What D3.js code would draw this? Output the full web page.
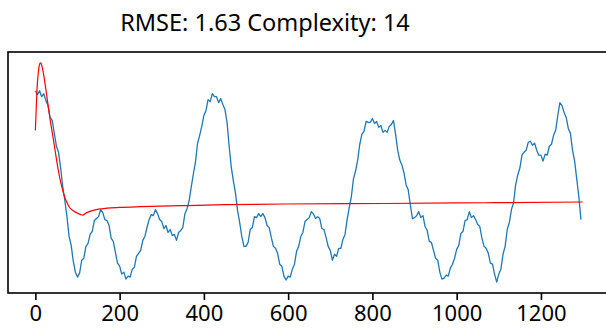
<!DOCTYPE html>
<html>
<head>
<meta charset="utf-8">
<script src="https://cdn.jsdelivr.net/npm/d3@7/dist/d3.min.js"></script>
<style>
  html, body { margin: 0; padding: 0; background: #fff; }
  svg { display: block; }
</style>
</head>
<body>
<svg id="chart" width="606" height="333"></svg>
<script>
// ---- data ----
const titleText = "RMSE: 1.63 Complexity: 14";
const xTicks = [0, 200, 400, 600, 800, 1000, 1200];
const xLast = 1299;
const sampleStep = 5; // observed series sampled every 5 units (index * 5)
const observed = [
 4.56,4.40,4.56,4.32,4.44,4.16,3.96,3.48,3.36,2.84,
 2.32,2.08,1.44,0.68,0.12,-0.52,-1.32,-1.68,-2.32,-2.76,
 -2.96,-2.80,-2.28,-2.20,-1.72,-1.60,-1.24,-1.12,-0.68,-0.60,
 -0.52,-0.24,-0.36,-0.64,-0.68,-0.88,-1.40,-1.52,-1.96,-2.40,
 -2.52,-2.84,-2.76,-3.04,-2.92,-2.96,-2.64,-2.56,-2.12,-2.00,
 -1.88,-1.48,-1.32,-0.96,-0.64,-0.44,-0.48,-0.24,-0.40,-0.64,
 -0.72,-1.00,-0.88,-1.16,-1.04,-1.28,-1.24,-1.48,-1.16,-1.08,
 -0.96,-0.40,-0.20,0.12,0.68,1.20,1.68,2.44,2.76,3.12,
 3.56,3.76,4.20,4.12,4.44,4.32,4.32,4.08,4.24,4.00,
 3.80,3.28,2.32,1.48,0.92,0.44,-0.28,-0.76,-1.32,-1.72,
 -1.72,-1.56,-1.04,-0.96,-0.52,-0.56,-0.40,-0.52,-0.40,-0.56,
 -0.88,-0.96,-1.36,-1.72,-1.80,-2.00,-2.44,-2.52,-2.92,-3.08,
 -2.92,-2.96,-2.64,-2.44,-1.92,-1.72,-1.32,-1.16,-0.72,-0.64,
 -0.56,-0.32,-0.40,-0.60,-0.52,-0.60,-1.00,-1.04,-1.36,-1.72,
 -1.88,-2.28,-2.04,-2.12,-1.80,-1.80,-1.44,-1.24,-0.64,-0.16,
 0.28,1.00,1.32,1.76,2.40,2.80,2.92,3.32,3.28,3.28,
 3.44,3.24,3.32,3.08,3.16,2.88,2.96,2.88,3.12,3.20,
 3.36,2.80,2.16,1.76,1.56,1.24,0.76,0.56,-0.04,-0.60,
 -0.56,-0.48,-0.32,-0.56,-0.48,-0.92,-1.08,-1.52,-1.56,-1.88,
 -2.20,-2.28,-2.76,-3.04,-3.00,-2.88,-2.92,-2.60,-2.44,-2.20,
 -1.84,-1.68,-1.20,-1.12,-0.68,-0.64,-0.32,-0.56,-0.48,-0.64,
 -0.84,-0.92,-1.40,-1.72,-1.80,-2.00,-2.40,-2.44,-2.84,-3.16,
 -2.84,-2.64,-2.04,-1.72,-1.04,-0.76,-0.24,0.04,0.76,1.16,
 1.44,1.96,2.08,2.16,2.48,2.52,2.36,2.44,2.16,1.96,
 1.96,1.72,2.00,1.96,2.32,2.40,2.76,2.96,3.56,4.08,
 3.96,3.68,3.48,3.04,2.84,2.16,1.72,1.00,0.28,-0.64
];
const modelX = [0,2,4,6,8,10,12,14,16,19,22,26,30,35,40,45,50,55,60,66,72,76,80,90,100,108,113,118,125,135,150,170,200,250,344,450,593,830,1067,1299];
const modelY = [2.96,3.84,4.64,5.12,5.44,5.62,5.68,5.64,5.52,5.28,4.96,4.48,4.00,3.40,2.88,2.36,1.80,1.30,0.88,0.48,0.16,0.02,-0.12,-0.28,-0.38,-0.44,-0.46,-0.40,-0.34,-0.28,-0.22,-0.18,-0.15,-0.12,-0.08,-0.04,-0.01,0.01,0.04,0.07];

// ---- layout ----
const svg = d3.select("#chart");
const plot = { left: 8, right: 610, top: 52, bottom: 293 };
const font = "'Noto Sans', 'Open Sans', sans-serif";

const obsPts = observed.map((v, i) => [i * sampleStep, v]);
const modPts = modelX.map((x, i) => [x, modelY[i]]);

const xPad = (xLast - 0) * 0.05;
const x = d3.scaleLinear().domain([0 - xPad, xLast + xPad]).range([plot.left, plot.right]);
const allY = observed.concat(modelY);
const [yMin, yMax] = d3.extent(allY);
const yPad = (yMax - yMin) * 0.05;
const y = d3.scaleLinear().domain([yMin - yPad, yMax + yPad]).range([plot.bottom, plot.top]);

svg.append("clipPath").attr("id", "clip")
  .append("rect").attr("x", plot.left).attr("y", plot.top)
  .attr("width", plot.right - plot.left).attr("height", plot.bottom - plot.top);

const g = svg.append("g").attr("clip-path", "url(#clip)");

g.append("path").datum(obsPts)
  .attr("fill", "none").attr("stroke", "#1f77b4").attr("stroke-width", 1.3)
  .attr("stroke-linejoin", "round")
  .attr("d", d3.line().x(d => x(d[0])).y(d => y(d[1])));

g.append("path").datum(modPts)
  .attr("fill", "none").attr("stroke", "#ff0000").attr("stroke-width", 1.2)
  .attr("d", d3.line().curve(d3.curveMonotoneX).x(d => x(d[0])).y(d => y(d[1])));

// frame
svg.append("rect")
  .attr("x", plot.left).attr("y", plot.top)
  .attr("width", plot.right - plot.left).attr("height", plot.bottom - plot.top)
  .attr("fill", "none").attr("stroke", "#000").attr("stroke-width", 1.6);

// x axis
const xAxis = d3.axisBottom(x).tickValues(xTicks).tickSize(7).tickPadding(5).tickFormat(d3.format("d"));
const ax = svg.append("g").attr("transform", `translate(0,${plot.bottom})`).call(xAxis);
ax.select(".domain").remove();
ax.selectAll(".tick line").attr("stroke", "#000").attr("stroke-width", 1.6);
ax.selectAll(".tick text").attr("fill", "#000").style("font-family", font).style("font-size", "22px");

// title
svg.append("text")
  .attr("x", 265).attr("y", 31)
  .attr("text-anchor", "middle")
  .style("font-family", font).style("font-size", "23.5px").attr("fill", "#000")
  .text(titleText);
</script>
</body>
</html>
